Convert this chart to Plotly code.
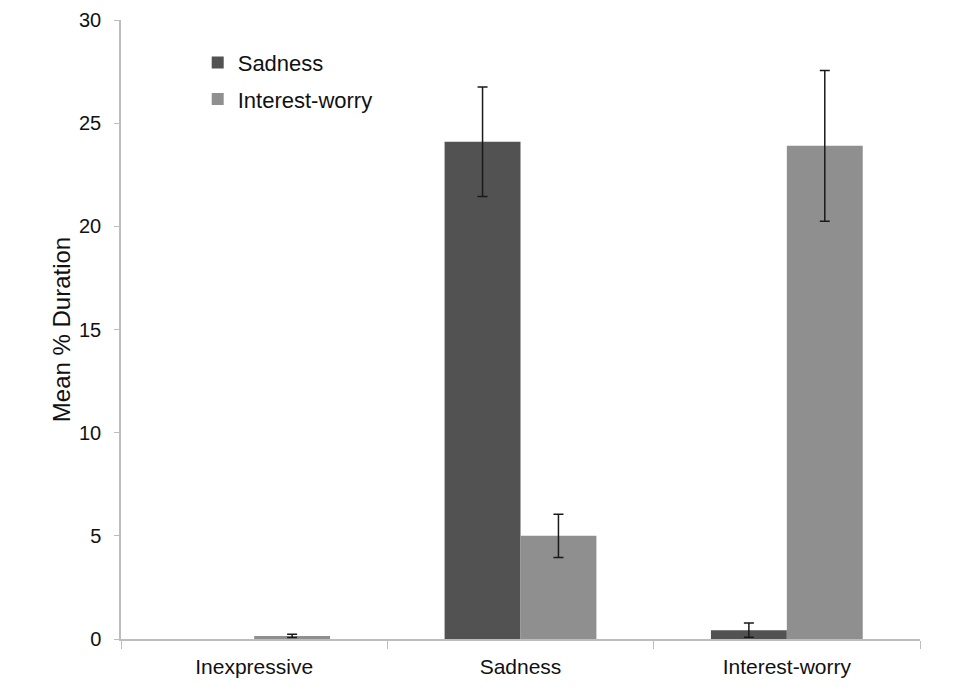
import numpy as np
import plotly.graph_objects as go

categories = ["Inexpressive", "Sadness", "Interest-worry"]
sadness_vals = [0.0, 24.1, 0.43]
sadness_err = np.array([np.nan, 2.65, 0.35])   # no error bar shown for the empty bar
interest_vals = [0.15, 5.0, 23.9]
interest_err = np.array([0.08, 1.05, 3.65])
y_ticks = [0, 5, 10, 15, 20, 25, 30]

font_family = "Liberation Sans, Arial, Helvetica, sans-serif"

fig = go.Figure()
fig.add_trace(go.Bar(
    x=categories, y=sadness_vals, name="Sadness", legendgroup="a",
    marker=dict(color="#525252", line=dict(width=0)),
    error_y=dict(type="data", array=sadness_err, visible=True,
                 color="#1a1a1a", thickness=1.5, width=5),
))
fig.add_trace(go.Bar(
    x=categories, y=interest_vals, name="Interest-worry", legendgroup="b",
    marker=dict(color="#8f8f8f", line=dict(width=0)),
    error_y=dict(type="data", array=interest_err, visible=True,
                 color="#1a1a1a", thickness=1.5, width=5),
))

fig.update_layout(
    width=971, height=700,
    margin=dict(l=113, r=59, t=12, b=69),
    paper_bgcolor="white", plot_bgcolor="white",
    barmode="group", bargap=0.43, bargroupgap=0,
    font=dict(family=font_family, size=21, color="#111111"),
    legend=dict(x=0.096, y=0.965, xanchor="left", yanchor="top",
                bgcolor="rgba(0,0,0,0)", font=dict(size=22),
                tracegroupgap=5, itemwidth=30),
    showlegend=True,
)
fig.update_yaxes(
    range=[0, 30], tickvals=y_ticks, showgrid=False, zeroline=False,
    showline=True, linecolor="#bdbdbd", linewidth=1.5,
    ticks="outside", ticklen=5, tickcolor="#bdbdbd", tickfont=dict(size=20),
    ticklabelstandoff=9, ticklabeloverflow="allow", automargin=False,
    title=dict(text="Mean % Duration", font=dict(size=24), standoff=2),
)
fig.update_xaxes(
    showgrid=False, zeroline=False, showline=True, linecolor="#bdbdbd", linewidth=1.5,
    ticks="outside", tickson="boundaries", ticklen=8, tickcolor="#bdbdbd",
    tickfont=dict(size=21), ticklabelstandoff=8, automargin=False,
)

fig.write_html("out.html")
